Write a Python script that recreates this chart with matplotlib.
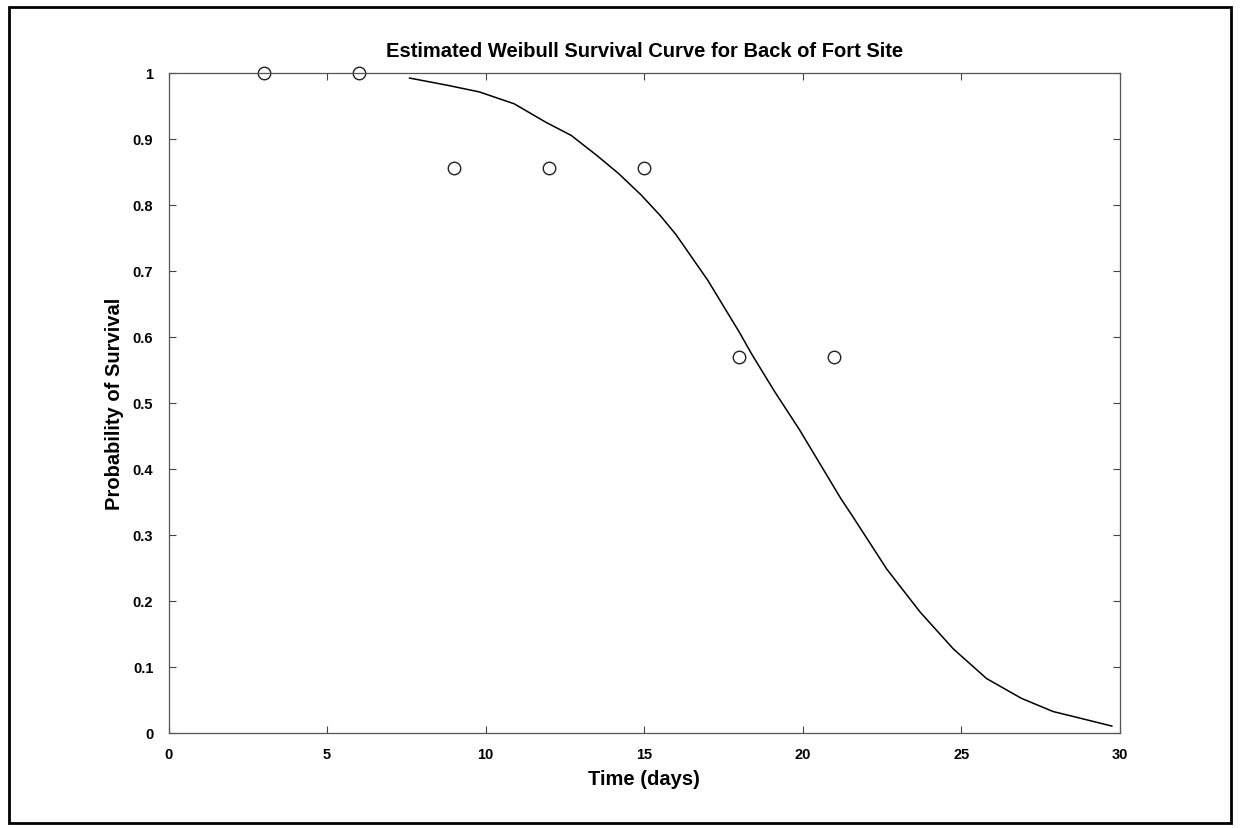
import matplotlib
matplotlib.use("Agg")
import matplotlib.pyplot as plt
from matplotlib.patches import Rectangle

plt.rcParams['font.family'] = ['Liberation Sans', 'DejaVu Sans']

# observed survival points
obs_days = [3, 6, 9, 12, 15, 18, 21]
obs_surv = [1.0, 1.0, 0.855, 0.855, 0.855, 0.57, 0.57]

# fitted Weibull curve
fit_days = [7.6, 8.8, 9.8, 10.9, 11.9, 12.7, 13.5, 14.2, 14.9, 15.5, 16.0,
            17.0, 18.0, 18.4, 19.1, 19.9, 20.55, 21.2, 21.6, 22.65, 23.7,
            24.75, 25.8, 26.9, 27.9, 29.0, 29.75]
fit_surv = [0.992, 0.981, 0.971, 0.953, 0.925, 0.905, 0.875, 0.847, 0.815,
            0.784, 0.755, 0.686, 0.607, 0.573, 0.518, 0.459, 0.407, 0.355,
            0.326, 0.248, 0.183, 0.127, 0.082, 0.052, 0.032, 0.019, 0.010]

x_ticks = [0, 5, 10, 15, 20, 25, 30]
y_ticks = [0, 0.1, 0.2, 0.3, 0.4, 0.5, 0.6, 0.7, 0.8, 0.9, 1.0]
y_ticklabels = ["0", "0.1", "0.2", "0.3", "0.4", "0.5", "0.6", "0.7",
                "0.8", "0.9", "1"]

fig = plt.figure(figsize=(12.4, 8.29), dpi=100)
ax = fig.add_axes([0.136, 0.115, 0.767, 0.796])

ax.plot(fit_days, fit_surv, color="black", lw=1.1)
ax.plot(obs_days, obs_surv, "o", ms=9, mfc="none", mec="#222222", mew=1.0,
        clip_on=False)

ax.set_xlim(0, 30)
ax.set_ylim(0, 1)
ax.set_xticks(x_ticks)
ax.set_yticks(y_ticks)
ax.set_yticklabels(y_ticklabels)
ax.tick_params(direction="in", length=5, width=0.8, top=True, right=True,
               labelsize=10.5, colors="#444444", labelcolor="black")
ax.tick_params(axis="x", pad=10)
ax.tick_params(axis="y", pad=11)
for lab in ax.get_xticklabels() + ax.get_yticklabels():
    lab.set_fontweight("bold")
for sp in ax.spines.values():
    sp.set_color("#555555")
    sp.set_linewidth(0.9)

ax.set_title("Estimated Weibull Survival Curve for Back of Fort Site",
             fontsize=14.5, fontweight="bold", pad=12)
ax.set_xlabel("Time (days)", fontsize=14.5, fontweight="bold", labelpad=6)
ax.set_ylabel("Probability of Survival", fontsize=14.5, fontweight="bold",
              labelpad=6)

# scanned page frame
fig.patches.append(Rectangle((0.007, 0.006), 0.986, 0.984,
                             transform=fig.transFigure, fill=False,
                             edgecolor="black", lw=2.0))

fig.savefig("out.png", dpi=100)
